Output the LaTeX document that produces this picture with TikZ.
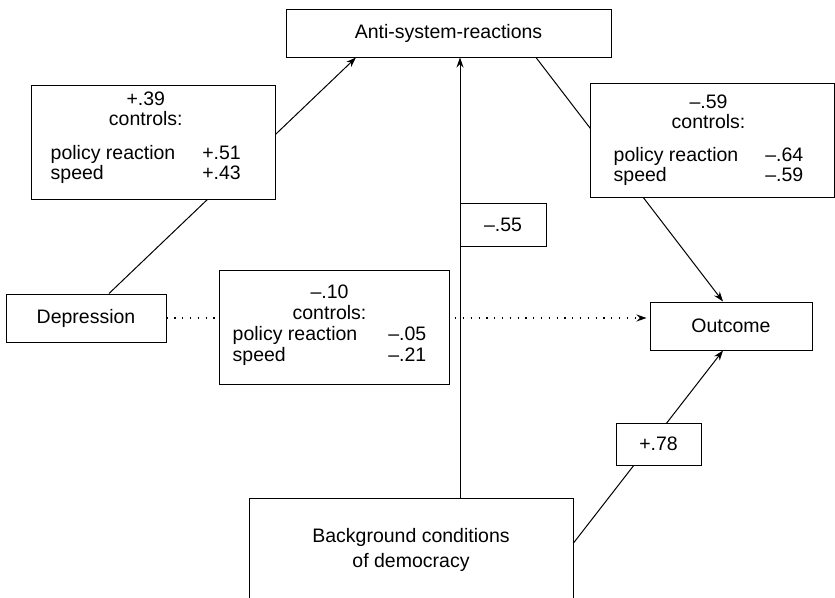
\documentclass[tikz,border=0pt]{standalone}
\usepackage{fontspec}
\setmainfont{Liberation Sans}
\usetikzlibrary{arrows.meta,backgrounds}
\newcommand{\fsz}{\fontsize{19.5}{20}\selectfont}
\newcommand{\fszm}{\fontsize{19.5}{21}\selectfont}
\newcommand{\fszb}{\fontsize{19.5}{25}\selectfont}
\begin{document}
\begin{tikzpicture}[x=1pt,y=-1pt,
  box/.style={draw, line width=1pt, fill=white, inner sep=0pt, rectangle, font=\fsz},
  txt/.style={inner sep=0pt},
  conn/.style={line width=1pt},
  arr/.style={conn, -{Stealth[length=10pt,width=7pt]}},
  dots/.style={line width=1.3pt, dash pattern=on 1.3pt off 6.5pt, -{Stealth[length=10pt,width=7pt]}}]
\useasboundingbox (0,0) rectangle (835,597);
\clip (0,0) rectangle (835,597);

\node[box, minimum width=325pt, minimum height=48pt] (anti) at (448.5,33) {Anti-system-reactions};
\node[box, minimum width=160pt, minimum height=48pt] (dep) at (86,318) {Depression};
\node[box, minimum width=162pt, minimum height=48pt] (out) at (731,326) {Outcome};
\node[box, minimum width=86pt, minimum height=43pt] (v55) at (503,224.5) {–.55};
\node[box, minimum width=85pt, minimum height=42pt] (v78) at (658.5,444) {+.78};

\node[box, minimum width=244pt, minimum height=114pt] (lb) at (153,142) {};
\node[txt, font=\fsz, anchor=base west] (lbt) at ([xshift=20pt,yshift=-21pt]lb.north west)
  {\begin{tabular}[t]{@{}l@{\hspace{27pt}}r@{}}
   \multicolumn{2}{@{}c@{}}{+.39}\\
   \multicolumn{2}{@{}c@{}}{controls:}\\[14pt]
   policy reaction & +.51\\
   speed & +.43
   \end{tabular}};

\node[box, minimum width=244pt, minimum height=114pt] (rb) at (712,140) {};
\node[txt, font=\fsz, anchor=base west] (rbt) at ([xshift=24pt,yshift=-26pt]rb.north west)
  {\begin{tabular}[t]{@{}l@{\hspace{27pt}}r@{}}
   \multicolumn{2}{@{}c@{}}{–.59}\\
   \multicolumn{2}{@{}c@{}}{controls:}\\[13pt]
   policy reaction & –.64\\
   speed & –.59
   \end{tabular}};

\node[box, minimum width=230pt, minimum height=114pt] (mid) at (334,327) {};
\node[txt, font=\fszm, anchor=base west] (midt) at ([xshift=14pt,yshift=-29pt]mid.north west)
  {\begin{tabular}[t]{@{}l@{\hspace{31pt}}r@{}}
   \multicolumn{2}{@{}c@{}}{–.10}\\
   \multicolumn{2}{@{}c@{}}{controls:}\\
   policy reaction & –.05\\
   speed & –.21
   \end{tabular}};

\node[box, minimum width=324pt, minimum height=130pt, anchor=north] (bg) at (411,498) {};
\node[txt, font=\fszb, align=center] (bgt) at (411,550) {Background conditions\\of democracy};

\begin{scope}[on background layer]
\draw[arr] ([xshift=23pt]dep.north) -- ([xshift=-92.5pt]anti.south);
\draw[arr] ([xshift=87.5pt]anti.south) -- ([xshift=-8pt]out.north);
\draw[arr] ([xshift=49pt]bg.north) -- ([xshift=11.5pt]anti.south);
\draw[arr] ([yshift=-45pt]bg.north east) -- ([xshift=-8pt]out.south);
\draw[dots] (dep.east) -- ([xshift=-3pt]dep.east -| out.west);
\end{scope}
\end{tikzpicture}
\end{document}
